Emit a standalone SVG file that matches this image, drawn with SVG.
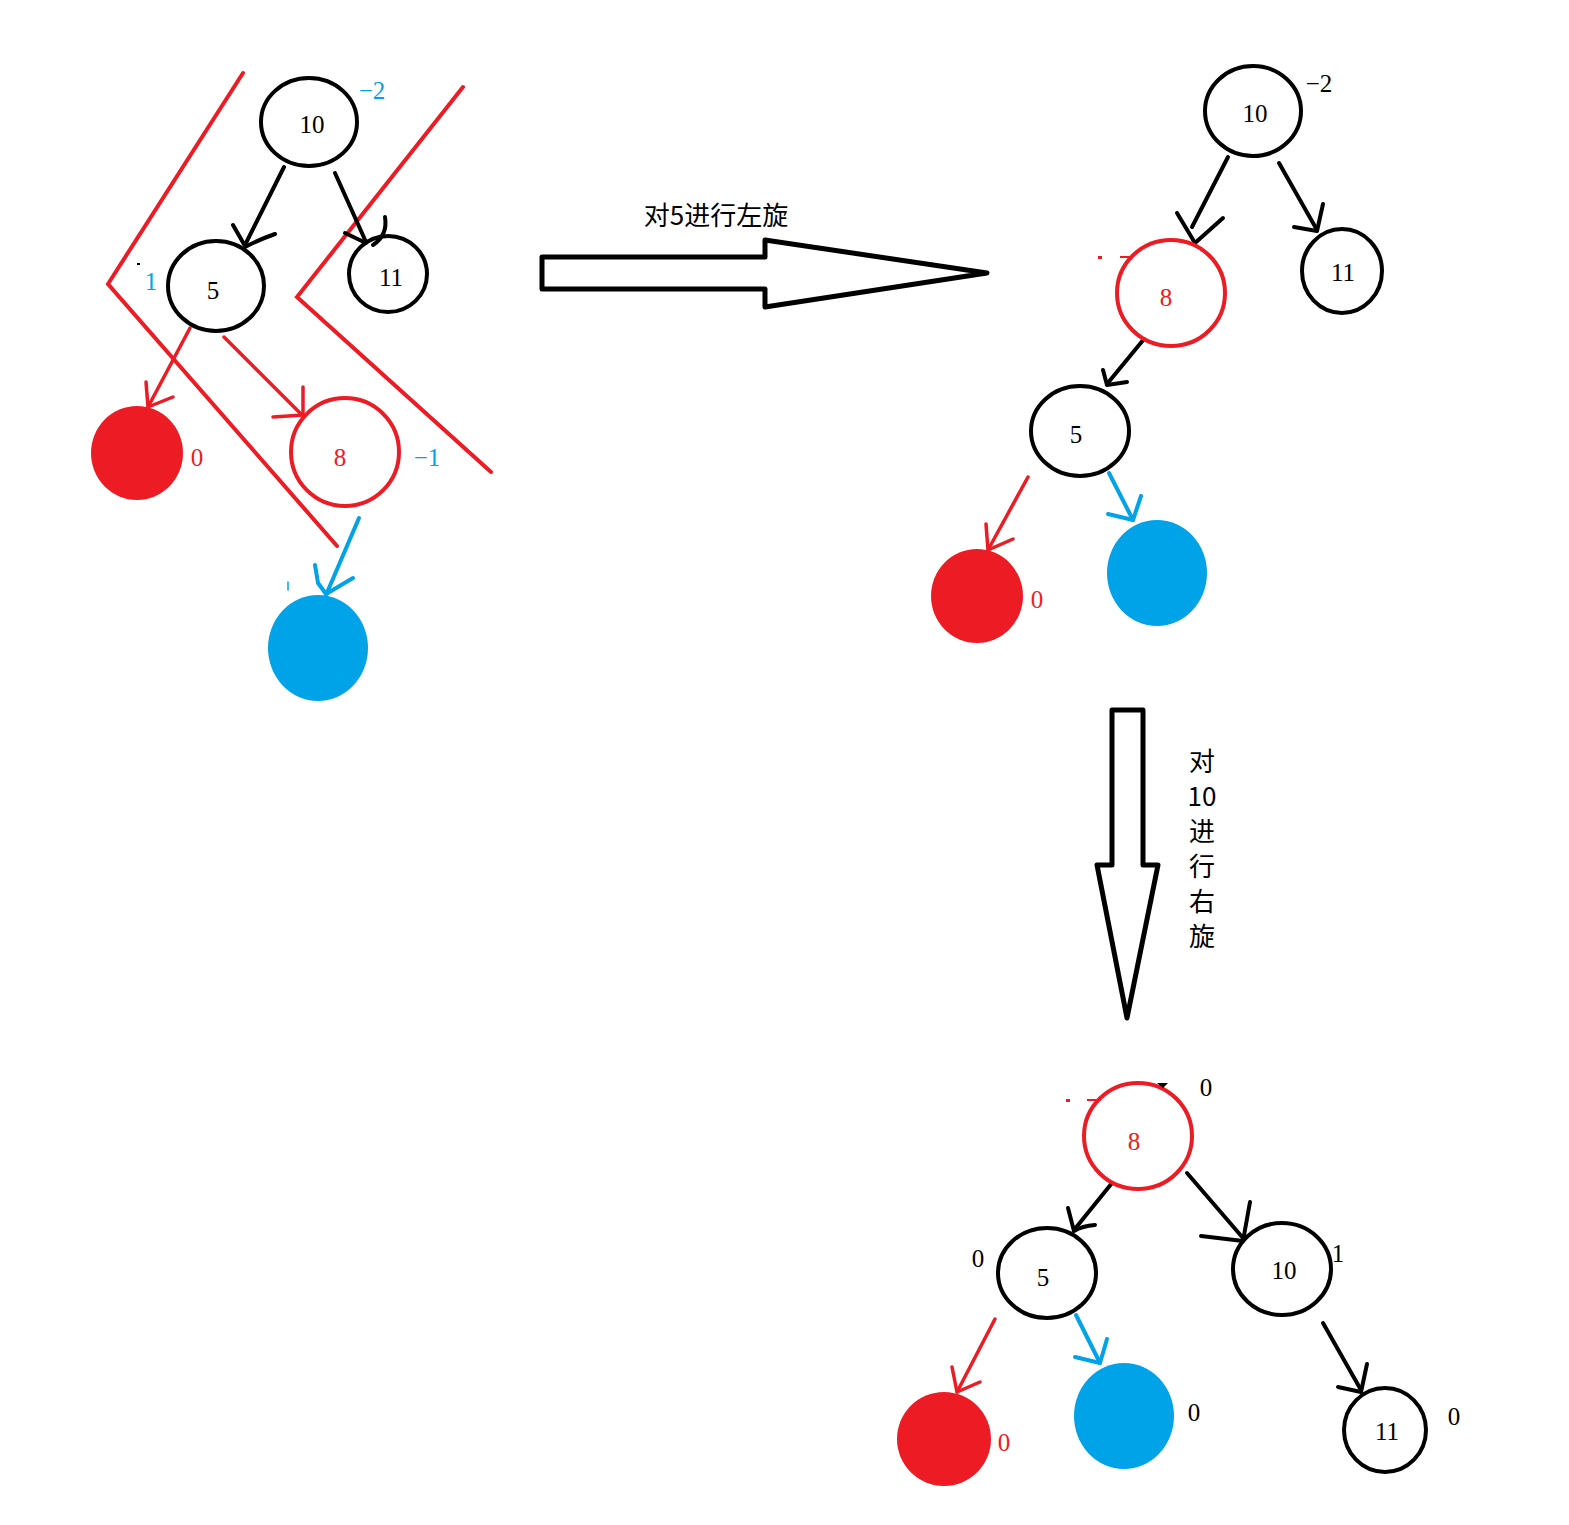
<svg xmlns="http://www.w3.org/2000/svg" width="1569" height="1525" viewBox="0 0 1569 1525">
<style>
.bg{fill:#ffffff}
.ring{fill:none;stroke:#000;stroke-width:4}
.rring{fill:none;stroke:#ED1C24;stroke-width:4}
.rfill{fill:#ED1C24}
.bfill{fill:#00A2E8}
.k{fill:none;stroke:#000;stroke-width:4;stroke-linecap:round;stroke-linejoin:round}
.r{fill:none;stroke:#ED1C24;stroke-width:3.5;stroke-linecap:round;stroke-linejoin:round}
.rb{fill:none;stroke:#ED1C24;stroke-width:4;stroke-linecap:round;stroke-linejoin:miter}
.b{fill:none;stroke:#00A2E8;stroke-width:4;stroke-linecap:round;stroke-linejoin:round}
.big{fill:#fff;stroke:#000;stroke-width:5;stroke-linejoin:round}
.t{font-family:"Liberation Serif","Times New Roman",serif;font-size:25px;text-anchor:middle;fill:#000}
.tr{fill:#ED1C24}
.tb{fill:#00A2E8}
.cn{font-family:"Noto Sans CJK SC","Noto Sans",sans-serif;font-size:26px;fill:#000;text-anchor:middle}
</style>
<rect class="bg" x="0" y="0" width="1569" height="1525"/>

<!-- Red bracket lines (left tree) -->
<g id="brackets">
  <polyline class="rb" points="243,73 108,284 337,546"/>
  <polyline class="rb" points="463,87 297,297 491,472"/>
</g>

<!-- Connectors -->
<g id="connectors">
  <!-- top-left tree -->
  <line class="k" x1="284" y1="167" x2="245" y2="245"/>
  <path class="k" d="M233,225 L245,246 M275,234 Q258,240 245,247"/>
  <line class="k" x1="335" y1="173" x2="366" y2="242"/>
  <path class="k" d="M345,233 L366,243 M385,217 Q388,235 373,245"/>
  <line class="r" x1="190" y1="328" x2="148" y2="407"/>
  <path class="r" d="M146,382 L148,407 L173,397"/>
  <line class="r" x1="224" y1="337" x2="302" y2="415"/>
  <path class="r" d="M303,387 L303,415 L273,417"/>
  <line class="b" x1="359" y1="518" x2="326" y2="595"/>
  <path class="b" d="M315,565 L318,583 L326,594 L353,578"/>
  <line class="b" x1="288" y1="582" x2="288" y2="590" style="stroke-width:1.5"/>

  <!-- top-right tree -->
  <line class="k" x1="1228" y1="157" x2="1192" y2="227"/>
  <path class="k" d="M1177,213 L1195,243 L1223,218"/>
  <line class="k" x1="1279" y1="163" x2="1317" y2="230"/>
  <path class="k" d="M1323,204 L1317,231 L1294,227"/>
  <line class="k" x1="1144" y1="339" x2="1107" y2="384"/>
  <path class="k" d="M1103,370 L1107,385 L1127,382"/>
  <line class="r" x1="1028" y1="477" x2="988" y2="550"/>
  <path class="r" d="M986,524 L988,550 L1013,539"/>
  <line class="b" x1="1109" y1="473" x2="1133" y2="520"/>
  <path class="b" d="M1141,496 L1133,520 L1108,514"/>

  <!-- bottom tree -->
  <line class="k" x1="1112" y1="1183" x2="1074" y2="1230"/>
  <path class="k" d="M1068,1208 L1074,1231 M1095,1225 Q1082,1226 1074,1231"/>
  <line class="k" x1="1187" y1="1173" x2="1243" y2="1238"/>
  <path class="k" d="M1250,1202 L1243,1241 L1201,1236"/>
  <line class="k" x1="1323" y1="1323" x2="1361" y2="1390"/>
  <path class="k" d="M1367,1364 L1361,1392 L1338,1387"/>
  <line class="r" x1="995" y1="1319" x2="957" y2="1392"/>
  <path class="r" d="M952,1367 L957,1392 L980,1382"/>
  <line class="b" x1="1076" y1="1315" x2="1100" y2="1363"/>
  <path class="b" d="M1107,1339 L1100,1363 L1075,1357"/>
</g>

<!-- Operation arrows -->
<g id="arrow-left-rotate">
  <polygon class="big" points="542,257 765,257 765,240 987,273 765,307 765,289 542,289"/>
  <text class="cn" x="716" y="225">对5进行左旋</text>
</g>
<g id="arrow-right-rotate">
  <polygon class="big" points="1112,710 1143,710 1143,865 1158,865 1127,1018 1097,865 1112,865"/>
  <text class="cn" x="1202" y="771">对</text>
  <text class="cn" x="1202" y="806">10</text>
  <text class="cn" x="1202" y="841">进</text>
  <text class="cn" x="1202" y="876">行</text>
  <text class="cn" x="1202" y="911">右</text>
  <text class="cn" x="1202" y="946">旋</text>
</g>

<!-- Top-left tree nodes -->
<g id="tl-node-10">
  <ellipse class="ring" cx="309" cy="122" rx="48" ry="44"/>
  <text class="t" x="312" y="133">10</text>
  <text class="t tb" x="372" y="99">−2</text>
</g>
<g id="tl-node-5">
  <ellipse class="ring" cx="216" cy="286" rx="48" ry="45"/>
  <text class="t" x="213" y="299">5</text>
  <text class="t tb" x="151" y="290">1</text>
  <line x1="137" y1="264" x2="140" y2="264" stroke="#000" stroke-width="2"/>
</g>
<g id="tl-node-11">
  <ellipse class="ring" cx="388" cy="274" rx="39" ry="38"/>
  <text class="t" x="391" y="286">11</text>
</g>
<g id="tl-node-red">
  <ellipse class="rfill" cx="137" cy="453" rx="46" ry="47"/>
  <text class="t tr" x="197" y="466">0</text>
</g>
<g id="tl-node-8">
  <ellipse class="rring" cx="345" cy="452" rx="54" ry="54"/>
  <text class="t tr" x="340" y="466">8</text>
  <text class="t tb" x="427" y="466">−1</text>
</g>
<g id="tl-node-blue">
  <ellipse class="bfill" cx="318" cy="648" rx="50" ry="53"/>
</g>

<!-- Top-right tree nodes -->
<g id="tr-node-10">
  <ellipse class="ring" cx="1253" cy="111" rx="48" ry="45"/>
  <text class="t" x="1255" y="122">10</text>
  <text class="t" x="1319" y="92">−2</text>
</g>
<g id="tr-node-11">
  <ellipse class="ring" cx="1342" cy="271" rx="40" ry="42"/>
  <text class="t" x="1343" y="281">11</text>
</g>
<g id="tr-node-8">
  <ellipse class="rring" cx="1171" cy="293" rx="54" ry="53"/>
  <text class="t tr" x="1166" y="306">8</text>
  <rect x="1098" y="256" width="4" height="3" fill="#ED1C24"/>
  <line x1="1120" y1="257" x2="1133" y2="257" stroke="#ED1C24" stroke-width="2"/>
</g>
<g id="tr-node-5">
  <ellipse class="ring" cx="1080" cy="431" rx="49" ry="45"/>
  <text class="t" x="1076" y="443">5</text>
</g>
<g id="tr-node-red">
  <ellipse class="rfill" cx="977" cy="596" rx="46" ry="47"/>
  <text class="t tr" x="1037" y="608">0</text>
</g>
<g id="tr-node-blue">
  <ellipse class="bfill" cx="1157" cy="573" rx="50" ry="53"/>
</g>

<!-- Bottom tree nodes -->
<g id="b-node-8">
  <ellipse class="rring" cx="1138" cy="1136" rx="54" ry="53"/>
  <text class="t tr" x="1134" y="1150">8</text>
  <text class="t" x="1206" y="1096">0</text>
  <polygon points="1157,1083 1168,1083 1163,1088" fill="#000"/>
  <rect x="1066" y="1099" width="4" height="3" fill="#ED1C24"/>
  <line x1="1087" y1="1100" x2="1101" y2="1100" stroke="#ED1C24" stroke-width="2"/>
</g>
<g id="b-node-5">
  <ellipse class="ring" cx="1047" cy="1273" rx="49" ry="45"/>
  <text class="t" x="1043" y="1286">5</text>
  <text class="t" x="978" y="1267">0</text>
</g>
<g id="b-node-10">
  <ellipse class="ring" cx="1282" cy="1269" rx="49" ry="46"/>
  <text class="t" x="1284" y="1279">10</text>
  <text class="t" x="1338" y="1262">1</text>
</g>
<g id="b-node-red">
  <ellipse class="rfill" cx="944" cy="1439" rx="47" ry="47"/>
  <text class="t tr" x="1004" y="1451">0</text>
</g>
<g id="b-node-blue">
  <ellipse class="bfill" cx="1124" cy="1416" rx="50" ry="53"/>
  <text class="t" x="1194" y="1421">0</text>
</g>
<g id="b-node-11">
  <ellipse class="ring" cx="1385" cy="1430" rx="41" ry="42"/>
  <text class="t" x="1387" y="1440">11</text>
  <text class="t" x="1454" y="1425">0</text>
</g>
</svg>
